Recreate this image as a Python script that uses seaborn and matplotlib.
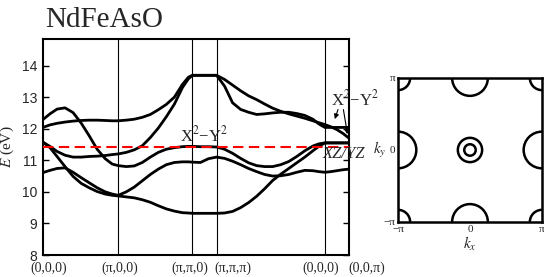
import matplotlib
matplotlib.use('Agg')
import matplotlib.pyplot as plt
import matplotlib.transforms as mtransforms
import seaborn as sns
import pandas as pd
import numpy as np
from matplotlib.patches import Circle

sns.set_theme(style='white')
plt.rcParams['font.family'] = ['Liberation Serif', 'DejaVu Serif']
plt.rcParams['mathtext.fontset'] = 'stix'
plt.rcParams['axes.edgecolor'] = 'black'
plt.rcParams['axes.linewidth'] = 1.5

# k 路径（Γ-X 长度为 1）
k = [0.000, 0.093, 0.187, 0.293, 0.400, 0.507, 0.613, 0.720, 0.827, 0.920, 1.000,
     1.107, 1.213, 1.320, 1.427, 1.533, 1.640, 1.747, 1.853, 1.933, 1.987,
     2.093, 2.200, 2.307,
     2.413, 2.520, 2.627, 2.733, 2.840, 2.947, 3.053, 3.160, 3.267, 3.373, 3.480, 3.587, 3.667, 3.747,
     3.827, 3.907, 3.987, 4.067]

band1 = [12.29, 12.47, 12.62, 12.66, 12.51, 12.18, 11.78, 11.35, 11.05, 10.88, 10.83,
         10.80, 10.82, 10.93, 11.10, 11.25, 11.35, 11.40, 11.43, 11.44, 11.44,
         11.43, 11.43, 11.42,
         11.35, 11.22, 11.06, 10.92, 10.83, 10.80, 10.80, 10.86, 10.96, 11.12, 11.30, 11.45, 11.52, 11.55,
         11.55, 11.55, 11.55, 11.55]
band2 = [12.04, 12.12, 12.17, 12.21, 12.24, 12.26, 12.27, 12.27, 12.26, 12.25, 12.25,
         12.27, 12.30, 12.36, 12.45, 12.60, 12.77, 13.00, 13.40, 13.63, 13.69,
         13.69, 13.69, 13.69,
         13.56, 13.38, 13.20, 13.04, 12.92, 12.78, 12.65, 12.55, 12.47, 12.40, 12.33, 12.25, 12.19, 12.13,
         12.06, 11.97, 11.85, 11.70]
band3 = [11.57, 11.44, 11.28, 11.16, 11.10, 11.10, 11.12, 11.13, 11.15, 11.18, 11.20,
         11.25, 11.33, 11.46, 11.72, 12.02, 12.38, 12.78, 13.30, 13.58, 13.69,
         13.69, 13.69, 13.69,
         13.35, 12.82, 12.61, 12.52, 12.45, 12.47, 12.50, 12.52, 12.52, 12.48, 12.42, 12.30, 12.15, 12.04,
         12.04, 12.04, 12.04, 12.04]
band4 = [11.57, 11.40, 11.12, 10.80, 10.49, 10.27, 10.13, 10.01, 9.93, 9.89, 9.87,
         9.84, 9.81, 9.75, 9.67, 9.56, 9.46, 9.39, 9.34, 9.33, 9.32,
         9.32, 9.32, 9.32,
         9.33, 9.38, 9.50, 9.66, 9.86, 10.10, 10.36, 10.56, 10.74, 10.92, 11.10, 11.30, 11.44, 11.55,
         11.55, 11.55, 11.55, 11.55]
band5 = [10.61, 10.68, 10.74, 10.76, 10.62, 10.45, 10.29, 10.13, 10.00, 9.93, 9.89,
         10.00, 10.15, 10.35, 10.55, 10.72, 10.86, 10.93, 10.95, 10.95, 10.94,
         10.93, 11.05, 11.10,
         11.06, 10.97, 10.86, 10.74, 10.64, 10.55, 10.50, 10.51, 10.55, 10.62, 10.68, 10.67, 10.64, 10.62,
         10.64, 10.67, 10.70, 10.72]

sym_k = [0.0, 1.0, 1.987, 2.307, 3.747, 4.067]
sym_labels = ['(0,0,0)', '(π,0,0)', '(π,π,0)', '(π,π,π)', '(0,0,0)', '(0,0,π)']
E_fermi = 11.41

# 费米面口袋：中心与半径
pi = np.pi
pocket_kx = [0, 0, 0, 0, -pi, pi, -pi, pi, -pi, pi]
pocket_ky = [0, 0, pi, -pi, 0, 0, pi, pi, -pi, -pi]
pocket_r = [0.25, 0.53, 0.78, 0.78, 0.80, 0.80, 0.53, 0.53, 0.53, 0.53]

bands = [band1, band2, band3, band4, band5]
df = pd.concat([pd.DataFrame({'k': k, 'E': b, 'band': i}) for i, b in enumerate(bands)])

fig = plt.figure(figsize=(5.44, 2.77), dpi=100)
ax1 = fig.add_axes([0.079, 0.0794, 0.5625, 0.7798])
ax2 = fig.add_axes([0.7316, 0.1986, 0.2647, 0.5199])

# 能带
sns.lineplot(data=df, x='k', y='E', units='band', estimator=None, color='black',
             lw=2.0, ax=ax1, legend=False)
for x in sym_k[1:-1]:
    ax1.axvline(x, color='black', lw=0.8, zorder=1)
ax1.axhline(E_fermi, color='red', ls=(0, (5, 2.6)), lw=1.5, zorder=3)
ax1.set_xlim(sym_k[0], sym_k[-1])
ax1.set_ylim(8, 14.84)
ax1.set_xticks(sym_k, sym_labels)
ax1.set_yticks(range(8, 15))
ax1.tick_params(axis='x', length=0, pad=5, labelsize=10)
ax1.tick_params(axis='y', direction='in', length=4, width=1, right=True, left=True,
                labelsize=10, pad=4, color='black')
for lbl in ax1.get_yticklabels():
    lbl.set_fontfamily('Liberation Sans')
# 标签横向错开，与原图一致
label_shift = [6, 2, -3, 16, -4, 18]
for lbl, dx in zip(ax1.get_xticklabels(), label_shift):
    lbl.set_transform(lbl.get_transform() +
                      mtransforms.ScaledTranslation(dx / 100, 0, fig.dpi_scale_trans))
ax1.set_xlabel('')
ax1.set_ylabel('$E$ (eV)', fontsize=11, labelpad=4)
ax1.set_title('NdFeAsO', loc='left', fontsize=21, pad=8.5, x=0.008)

ax1.text(1.827, 11.59, 'X$^2$−Y$^2$', fontsize=12, ha='left', va='baseline')
ax1.text(3.827, 12.75, 'X$^2$−Y$^2$', fontsize=12, ha='left', va='baseline', clip_on=False)
ax1.annotate('', xy=(3.867, 12.22), xytext=(3.933, 12.69),
             arrowprops=dict(arrowstyle='-|>', color='black', lw=0.8, mutation_scale=7),
             annotation_clip=False)
ax1.annotate('', xy=(4.053, 11.74), xytext=(3.987, 12.69),
             arrowprops=dict(arrowstyle='-|>', color='black', lw=0.8, mutation_scale=7),
             annotation_clip=False)
ax1.text(3.72, 11.07, 'XZ/YZ', fontsize=12, style='italic', ha='left', va='baseline',
         clip_on=False)

# 费米面
for cx, cy, r in zip(pocket_kx, pocket_ky, pocket_r):
    ax2.add_patch(Circle((cx, cy), r, fill=False, ec='black', lw=1.8, clip_on=True))
ax2.set_xlim(-pi, pi)
ax2.set_ylim(-pi, pi)
ax2.set_aspect('equal')
ax2.set_xticks([-pi, 0, pi], ['−π', '0', 'π'])
ax2.set_yticks([-pi, 0, pi], ['−π', '0', 'π'])
ax2.tick_params(length=0, labelsize=8, pad=2)
ax2.set_xlabel('$k_x$', fontsize=11, labelpad=1)
ax2.set_ylabel('$k_y$', fontsize=11, rotation=0, labelpad=3, va='center')
for s in ax2.spines.values():
    s.set_linewidth(1.8)

fig.savefig('out.png', dpi=100)
